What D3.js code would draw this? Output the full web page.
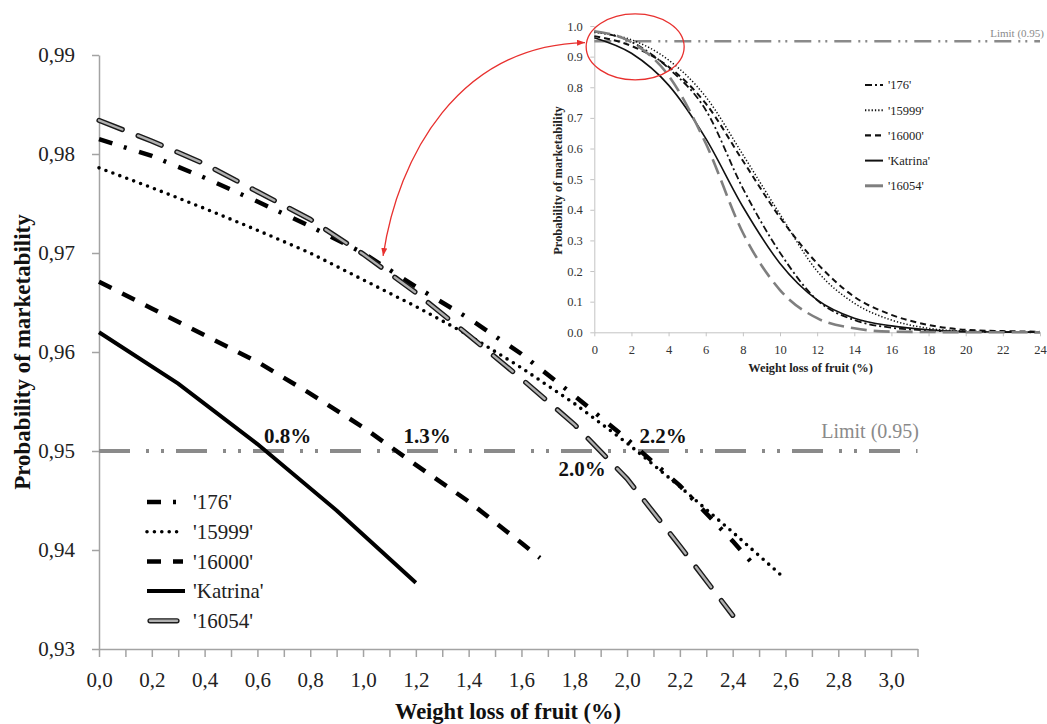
<!DOCTYPE html>
<html lang="en">
<head>
<meta charset="UTF-8">
<title>Probability of marketability</title>
<script src="https://d3js.org/d3.v7.min.js"></script>
<style>
    body { margin: 0; background: #fff; }
    svg { display: block; }
    svg text { font-family: "Liberation Serif", "DejaVu Serif", serif; }
</style>
</head>
<body>
<svg width="1047" height="724"></svg>
<script>
    // ---- main chart data: weight loss (%) vs probability of marketability ----
    const cultivars = ["'176'", "'15999'", "'16000'", "'Katrina'", "'16054'"];

    const loss176 = [0, 0.2, 0.4, 0.6, 0.8, 1.0, 1.2, 1.4, 1.6, 1.8, 2.0, 2.2, 2.4, 2.47];
    const prob176 = [0.9815, 0.9798, 0.9776, 0.9752, 0.9727, 0.9700, 0.9666, 0.9634, 0.9598, 0.9556, 0.9512, 0.9465, 0.9409, 0.9388];

    const loss15999 = [0, 0.2, 0.4, 0.6, 0.8, 1.0, 1.2, 1.4, 1.6, 1.8, 2.0, 2.2, 2.4, 2.59];
    const prob15999 = [0.9786, 0.9766, 0.9745, 0.9723, 0.9700, 0.9673, 0.9646, 0.9617, 0.9584, 0.9548, 0.9508, 0.9464, 0.9418, 0.9373];

    const loss16000 = [0, 0.2, 0.4, 0.6, 0.8, 1.0, 1.2, 1.4, 1.6, 1.67];
    const prob16000 = [0.9671, 0.9644, 0.9617, 0.9590, 0.9558, 0.9524, 0.9486, 0.9449, 0.9407, 0.9392];

    const lossKatrina = [0, 0.3, 0.6, 0.9, 1.2];
    const probKatrina = [0.9620, 0.9568, 0.9507, 0.9440, 0.9367];

    const loss16054 = [0, 0.2, 0.4, 0.6, 0.8, 1.0, 1.2, 1.4, 1.6, 1.8, 2.0, 2.2, 2.4];
    const prob16054 = [0.9834, 0.9813, 0.9790, 0.9762, 0.9734, 0.9699, 0.9660, 0.9617, 0.9573, 0.9527, 0.9472, 0.9404, 0.9334];

    const limitValue = 0.95;
    const crossLabels = ["0.8%", "1.3%", "2.2%", "2.0%"];

    const mainXTicks = [0, 0.1, 0.2, 0.3, 0.4, 0.5, 0.6, 0.7, 0.8, 0.9, 1.0, 1.1, 1.2, 1.3, 1.4, 1.5,
        1.6, 1.7, 1.8, 1.9, 2.0, 2.1, 2.2, 2.3, 2.4, 2.5, 2.6, 2.7, 2.8, 2.9, 3.0, 3.1];
    const mainYTicks = [0.93, 0.94, 0.95, 0.96, 0.97, 0.98, 0.99];

    // ---- inset data: full range of weight loss ----
    const insetLoss = [0, 2, 4, 6, 8, 10, 12, 14, 16, 18, 20, 22, 24];
    const inset176 = [0.982, 0.948, 0.862, 0.726, 0.470, 0.260, 0.105, 0.040, 0.015, 0.006, 0.002, 0.001, 0.000];
    const inset15999 = [0.979, 0.955, 0.889, 0.769, 0.580, 0.385, 0.200, 0.095, 0.040, 0.013, 0.004, 0.002, 0.001];
    const inset16000 = [0.967, 0.935, 0.867, 0.747, 0.560, 0.375, 0.225, 0.116, 0.057, 0.024, 0.008, 0.004, 0.002];
    const insetKatrina = [0.962, 0.911, 0.807, 0.633, 0.410, 0.225, 0.106, 0.046, 0.021, 0.008, 0.002, 0.001, 0.000];
    const inset16054 = [0.983, 0.947, 0.838, 0.617, 0.325, 0.138, 0.046, 0.013, 0.002, 0.001, 0.000, 0.000, 0.000];

    const insetXTicks = [0, 2, 4, 6, 8, 10, 12, 14, 16, 18, 20, 22, 24];
    const insetYTicks = [0, 0.1, 0.2, 0.3, 0.4, 0.5, 0.6, 0.7, 0.8, 0.9, 1.0];

    const zip = (xs, ys) => xs.map((v, i) => [v, ys[i]]);

    const mainSeries = [
        {name: cultivars[0], pts: zip(loss176, prob176)},
        {name: cultivars[1], pts: zip(loss15999, prob15999)},
        {name: cultivars[2], pts: zip(loss16000, prob16000)},
        {name: cultivars[3], pts: zip(lossKatrina, probKatrina)},
        {name: cultivars[4], pts: zip(loss16054, prob16054)}
    ];
    const insetSeries = [
        {name: cultivars[0], pts: zip(insetLoss, inset176)},
        {name: cultivars[1], pts: zip(insetLoss, inset15999)},
        {name: cultivars[2], pts: zip(insetLoss, inset16000)},
        {name: cultivars[3], pts: zip(insetLoss, insetKatrina)},
        {name: cultivars[4], pts: zip(insetLoss, inset16054)}
    ];

    // line styles
    const mainStyle = {
        "'176'": {width: 4.5, dash: "14,12,3,13", cap: "butt"},
        "'15999'": {width: 3.6, dash: "0,7.4", cap: "round"},
        "'16000'": {width: 4.5, dash: "14,12", cap: "butt"},
        "'Katrina'": {width: 4, dash: null, cap: "butt"},
        "'16054'": {double: true, dash: "25,17"}
    };
    const insetStyle = {
        "'176'": {color: "#111", width: 1.8, dash: "7,3,2,3"},
        "'15999'": {color: "#111", width: 1.5, dash: "1.3,2"},
        "'16000'": {color: "#111", width: 2, dash: "6,4"},
        "'Katrina'": {color: "#111", width: 1.6, dash: null},
        "'16054'": {color: "#7f7f7f", width: 2.6, dash: "16,7"}
    };

    const serif = "'Liberation Serif', 'DejaVu Serif', serif";
    const svg = d3.select("svg");
    svg.append("rect").attr("width", 1047).attr("height", 724).attr("fill", "#fff");

    const axisGray = "#a3a3a3";
    const textDark = "#222";

    // ================= main chart =================
    const x = d3.scaleLinear().domain([0, 3.1]).range([99, 917.5]);
    const y = d3.scaleLinear().domain([0.93, 0.99]).range([649, 55]);

    const gx = svg.append("g")
        .attr("transform", "translate(0,649)")
        .call(d3.axisBottom(x).tickValues(mainXTicks).tickSize(8).tickSizeOuter(0)
            .tickFormat((d, i) => (i % 2 === 0 && d < 3.05) ? d3.format(".1f")(d).replace(".", ",") : ""));
    gx.attr("font-family", serif).attr("font-size", 21);
    gx.select(".domain").attr("stroke", axisGray).attr("stroke-width", 1.5);
    gx.selectAll(".tick line").attr("stroke", axisGray).attr("stroke-width", 1.5);
    gx.selectAll(".tick text").attr("y", 38).attr("dy", null).attr("fill", textDark);

    const gy = svg.append("g")
        .attr("transform", "translate(99,0)")
        .call(d3.axisLeft(y).tickValues(mainYTicks).tickSize(7).tickPadding(17).tickSizeOuter(0)
            .tickFormat(d => d3.format(".2f")(d).replace(".", ",")));
    gy.attr("font-family", serif).attr("font-size", 21);
    gy.select(".domain").attr("stroke", axisGray).attr("stroke-width", 1.5);
    gy.selectAll(".tick line").attr("stroke", axisGray).attr("stroke-width", 1.5);
    gy.selectAll(".tick text").attr("fill", textDark);

    // axis titles
    svg.append("text")
        .attr("x", 508).attr("y", 719)
        .attr("text-anchor", "middle")
        .attr("font-size", 22.5).attr("font-weight", "bold").attr("fill", "#111")
        .text("Weight loss of fruit (%)");
    svg.append("text")
        .attr("transform", "translate(30,352) rotate(-90)")
        .attr("text-anchor", "middle")
        .attr("font-size", 23).attr("font-weight", "bold").attr("fill", "#111")
        .text("Probability of marketability");

    // limit line
    svg.append("line")
        .attr("x1", x(0)).attr("x2", x(3.1))
        .attr("y1", y(limitValue)).attr("y2", y(limitValue))
        .attr("stroke", "#8a8a8a").attr("stroke-width", 4)
        .attr("stroke-dasharray", "31,16,3,12,3,12");
    svg.append("text")
        .attr("x", 919).attr("y", 438)
        .attr("text-anchor", "end")
        .attr("font-size", 20).attr("fill", "#8a8a8a")
        .text("Limit (0.95)");

    const line = d3.line().x(d => x(d[0])).y(d => y(d[1]));

    function drawStyled(g, d, st) {
        if (st.double) {
            g.append("path").attr("d", d).attr("fill", "none")
                .attr("stroke", "#1a1a1a").attr("stroke-width", 5.2)
                .attr("stroke-linecap", "round").attr("stroke-dasharray", st.dash);
            g.append("path").attr("d", d).attr("fill", "none")
                .attr("stroke", "#b0b0b0").attr("stroke-width", 2.4)
                .attr("stroke-linecap", "round").attr("stroke-dasharray", st.dash);
        } else {
            g.append("path").attr("d", d).attr("fill", "none")
                .attr("stroke", "#000").attr("stroke-width", st.width)
                .attr("stroke-linecap", st.cap)
                .attr("stroke-dasharray", st.dash);
        }
    }

    const gSeries = svg.append("g");
    mainSeries.forEach(s => drawStyled(gSeries.append("g"), line(s.pts), mainStyle[s.name]));

    // crossing labels
    const crossPos = [
        {x: 0.625, dy: -8.5},
        {x: 1.153, dy: -8.5},
        {x: 2.047, dy: -8.5},
        {x: 1.74, dy: 24.5}
    ];
    svg.append("g").selectAll("text")
        .data(crossLabels)
        .join("text")
        .attr("x", (d, i) => x(crossPos[i].x))
        .attr("y", (d, i) => y(limitValue) + crossPos[i].dy)
        .attr("font-size", 21).attr("font-weight", "bold").attr("fill", "#111")
        .text(d => d);

    // legend
    const legend = svg.append("g");
    cultivars.forEach((name, i) => {
        const ly = 502 + i * 29.7;
        const st = mainStyle[name];
        const g = legend.append("g");
        if (st.double) {
            drawStyled(g, `M150,${ly}L177,${ly}`, {double: true, dash: null});
        } else {
            drawStyled(g, `M147,${ly}L${name === "'Katrina'" ? 185 : 183},${ly}`, st);
        }
        g.append("text")
            .attr("x", 193).attr("y", ly).attr("dy", "0.35em")
            .attr("font-size", 21).attr("fill", textDark)
            .text(name);
    });

    // ================= inset chart =================
    const xi = d3.scaleLinear().domain([0, 24]).range([594.3, 1040]);
    const yi = d3.scaleLinear().domain([0, 1]).range([332.3, 26]);
    const insetGray = "#c4c4c4";

    const gxi = svg.append("g")
        .attr("transform", "translate(0,332.3)")
        .call(d3.axisBottom(xi).tickValues(insetXTicks).tickSize(4).tickSizeOuter(0));
    gxi.attr("font-family", serif).attr("font-size", 12.5);
    gxi.select(".domain").attr("stroke", insetGray);
    gxi.selectAll(".tick line").attr("stroke", insetGray);
    gxi.selectAll(".tick text").attr("y", 21.5).attr("dy", null).attr("fill", "#333");

    const gyi = svg.append("g")
        .attr("transform", "translate(594.3,0)")
        .call(d3.axisLeft(yi).tickValues(insetYTicks).tickSize(4).tickPadding(7.5).tickSizeOuter(0)
            .tickFormat(d3.format(".1f")));
    gyi.attr("font-family", serif).attr("font-size", 12.5);
    gyi.select(".domain").attr("stroke", insetGray);
    gyi.selectAll(".tick line").attr("stroke", insetGray);
    gyi.selectAll(".tick text").attr("fill", "#333");

    svg.append("text")
        .attr("x", 810.5).attr("y", 371.5)
        .attr("text-anchor", "middle")
        .attr("font-size", 12.4).attr("font-weight", "bold").attr("fill", "#222")
        .text("Weight loss of fruit (%)");
    svg.append("text")
        .attr("transform", "translate(562,180.5) rotate(-90)")
        .attr("text-anchor", "middle")
        .attr("font-size", 12.4).attr("font-weight", "bold").attr("fill", "#222")
        .text("Probability of marketability");

    // inset limit
    svg.append("line")
        .attr("x1", xi(0)).attr("x2", xi(24))
        .attr("y1", yi(limitValue)).attr("y2", yi(limitValue))
        .attr("stroke", "#8a8a8a").attr("stroke-width", 2.6)
        .attr("stroke-dasharray", "17,7,2,5,2,7");
    svg.append("text")
        .attr("x", 1044).attr("y", 36.5)
        .attr("text-anchor", "end")
        .attr("font-size", 11).attr("fill", "#8a8a8a")
        .text("Limit (0.95)");

    const lineI = d3.line().x(d => xi(d[0])).y(d => yi(d[1])).curve(d3.curveMonotoneX);
    const gInset = svg.append("g");
    insetSeries.forEach(s => {
        const st = insetStyle[s.name];
        gInset.append("path")
            .attr("d", lineI(s.pts)).attr("fill", "none")
            .attr("stroke", st.color).attr("stroke-width", st.width)
            .attr("stroke-dasharray", st.dash);
    });

    // inset legend
    const legI = svg.append("g");
    cultivars.forEach((name, i) => {
        const ly = 85 + i * 25.2;
        const st = insetStyle[name];
        legI.append("line")
            .attr("x1", 865).attr("x2", 883).attr("y1", ly).attr("y2", ly)
            .attr("stroke", st.color).attr("stroke-width", st.width + 0.4)
            .attr("stroke-dasharray", name === "'16054'" ? null : st.dash);
        legI.append("text")
            .attr("x", 888).attr("y", ly).attr("dy", "0.35em")
            .attr("font-size", 12.5).attr("fill", "#222")
            .text(name);
    });

    // ================= zoom callout =================
    const red = "#e8312f";
    svg.append("defs").append("marker")
        .attr("id", "head")
        .attr("viewBox", "0 0 8 6")
        .attr("refX", 8).attr("refY", 3)
        .attr("markerWidth", 8).attr("markerHeight", 6)
        .attr("markerUnits", "userSpaceOnUse")
        .attr("orient", "auto-start-reverse")
        .append("path").attr("d", "M0,0L8,3L0,6Z").attr("fill", red);

    svg.append("ellipse")
        .attr("cx", xi(2.2)).attr("cy", yi(0.932))
        .attr("rx", 49).attr("ry", 33)
        .attr("fill", "none").attr("stroke", red).attr("stroke-width", 1.3);

    const a0 = [x(1.076), y(0.9697)];
    const a1 = [xi(-0.5), yi(0.946)];
    svg.append("path")
        .attr("d", `M${a0[0]},${a0[1]}C${a0[0] + 15},${a0[1] - 100} ${a0[0] + 75},${a1[1] + 3} ${a1[0]},${a1[1]}`)
        .attr("fill", "none").attr("stroke", red).attr("stroke-width", 1.3)
        .attr("marker-start", "url(#head)").attr("marker-end", "url(#head)");
</script>
</body>
</html>
